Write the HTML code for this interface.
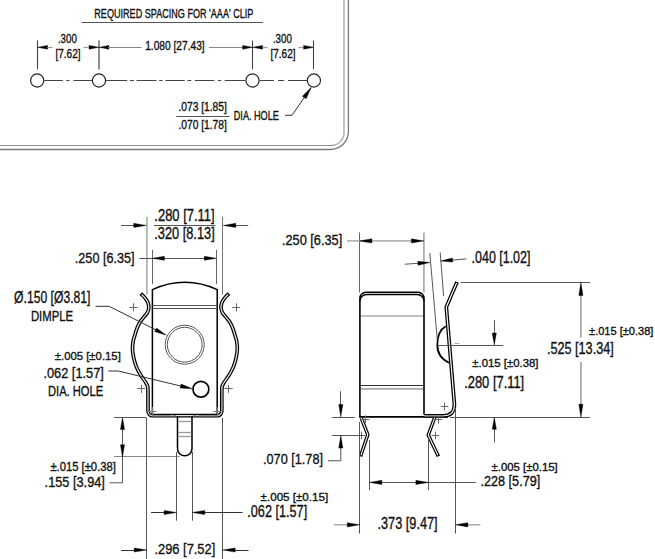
<!DOCTYPE html>
<html><head><meta charset="utf-8"><style>
html,body{margin:0;padding:0;background:#fff;}
svg{display:block;}
text{font-family:"Liberation Sans",sans-serif;}
</style></head><body>
<svg width="655" height="559" viewBox="0 0 655 559">
<rect width="655" height="559" fill="#fff"/>
<path d="M 344 0 L 344 132 A 13 13 0 0 1 331 145.5" fill="none" stroke="#b5b5b5" stroke-width="1.6"/>
<path d="M 333 145.5 L 0 145.5" fill="none" stroke="#8a8a8a" stroke-width="1.2"/>
<path d="M 348.4 0 L 348.4 131.5 A 18 18 0 0 1 330.4 149.5 L 0 149.5" fill="none" stroke="#777" stroke-width="1.3"/>
<text x="94.3" y="17.9" font-size="12.33" textLength="159.1" lengthAdjust="spacingAndGlyphs" fill="#111" stroke="#111" stroke-width="0.35">REQUIRED SPACING FOR 'AAA' CLIP</text>
<line x1="81.6" y1="22.5" x2="263.1" y2="22.5" stroke="#555" stroke-width="1"/>
<line x1="37.5" y1="40.5" x2="37.5" y2="69.4" stroke="#444" stroke-width="1.1"/>
<line x1="252.5" y1="40.5" x2="252.5" y2="69.4" stroke="#444" stroke-width="1.1"/>
<line x1="313.5" y1="40.5" x2="313.5" y2="69.4" stroke="#444" stroke-width="1.1"/>
<line x1="99" y1="40.5" x2="99" y2="69.4" stroke="#8a8a8a" stroke-width="1.9"/>
<polygon points="37.6,47.3 47.6,45.4 47.6,49.2" fill="#000" stroke="#000" stroke-width="0.4"/>
<line x1="47.5" y1="47.5" x2="52.5" y2="47.5" stroke="#999" stroke-width="1.2"/>
<line x1="83.5" y1="47.5" x2="88.5" y2="47.5" stroke="#999" stroke-width="1.2"/>
<polygon points="99,47.3 89,49.2 89,45.4" fill="#000" stroke="#000" stroke-width="0.4"/>
<polygon points="99,47.3 109,45.4 109,49.2" fill="#000" stroke="#000" stroke-width="0.4"/>
<line x1="108" y1="47.5" x2="141.5" y2="47.5" stroke="#888" stroke-width="1"/>
<line x1="209" y1="47.5" x2="243" y2="47.5" stroke="#888" stroke-width="1"/>
<polygon points="252.6,47.3 242.6,49.2 242.6,45.4" fill="#000" stroke="#000" stroke-width="0.4"/>
<polygon points="252.6,47.3 262.6,45.4 262.6,49.2" fill="#000" stroke="#000" stroke-width="0.4"/>
<line x1="262.5" y1="47.5" x2="267.5" y2="47.5" stroke="#999" stroke-width="1.2"/>
<line x1="298.5" y1="47.5" x2="303.5" y2="47.5" stroke="#999" stroke-width="1.2"/>
<polygon points="313.6,47.3 303.6,49.2 303.6,45.4" fill="#000" stroke="#000" stroke-width="0.4"/>
<text x="57.9" y="42.8" font-size="12.33" textLength="19" lengthAdjust="spacingAndGlyphs" fill="#111" stroke="#111" stroke-width="0.35">.300</text>
<text x="55.5" y="57.8" font-size="11.9" textLength="25" lengthAdjust="spacingAndGlyphs" fill="#111" stroke="#111" stroke-width="0.35">[7.62]</text>
<text x="145.2" y="49.6" font-size="11.9" textLength="59.5" lengthAdjust="spacingAndGlyphs" fill="#111" stroke="#111" stroke-width="0.35">1.080 [27.43]</text>
<text x="272.9" y="42.8" font-size="12.33" textLength="19" lengthAdjust="spacingAndGlyphs" fill="#111" stroke="#111" stroke-width="0.35">.300</text>
<text x="270.5" y="57.8" font-size="11.9" textLength="25" lengthAdjust="spacingAndGlyphs" fill="#111" stroke="#111" stroke-width="0.35">[7.62]</text>
<circle cx="37.2" cy="80.5" r="6.6" fill="none" stroke="#222" stroke-width="1.2"/>
<circle cx="99" cy="80.5" r="6.6" fill="none" stroke="#222" stroke-width="1.2"/>
<circle cx="252.5" cy="80.5" r="6.6" fill="none" stroke="#222" stroke-width="1.2"/>
<circle cx="313.9" cy="80.5" r="6.6" fill="none" stroke="#222" stroke-width="1.2"/>
<line x1="44.3" y1="80.5" x2="62.8" y2="80.5" stroke="#444" stroke-width="1"/>
<line x1="66.2" y1="80.5" x2="69.5" y2="80.5" stroke="#444" stroke-width="1"/>
<line x1="73.4" y1="80.5" x2="91.9" y2="80.5" stroke="#444" stroke-width="1"/>
<line x1="106" y1="80.5" x2="127.2" y2="80.5" stroke="#444" stroke-width="1"/>
<line x1="129.8" y1="80.5" x2="133.9" y2="80.5" stroke="#444" stroke-width="1"/>
<line x1="136.6" y1="80.5" x2="156.5" y2="80.5" stroke="#444" stroke-width="1"/>
<line x1="159.2" y1="80.5" x2="162.6" y2="80.5" stroke="#444" stroke-width="1"/>
<line x1="165.3" y1="80.5" x2="184.7" y2="80.5" stroke="#444" stroke-width="1"/>
<line x1="187.3" y1="80.5" x2="191.3" y2="80.5" stroke="#444" stroke-width="1"/>
<line x1="194.9" y1="80.5" x2="214.3" y2="80.5" stroke="#444" stroke-width="1"/>
<line x1="217.8" y1="80.5" x2="221.2" y2="80.5" stroke="#444" stroke-width="1"/>
<line x1="224.7" y1="80.5" x2="245.3" y2="80.5" stroke="#444" stroke-width="1"/>
<line x1="259.7" y1="80.5" x2="273.9" y2="80.5" stroke="#444" stroke-width="1"/>
<line x1="278" y1="80.5" x2="284.2" y2="80.5" stroke="#444" stroke-width="1"/>
<line x1="288" y1="80.5" x2="307" y2="80.5" stroke="#444" stroke-width="1"/>
<text x="178.4" y="110.6" font-size="11.9" textLength="48.5" lengthAdjust="spacingAndGlyphs" fill="#111" stroke="#111" stroke-width="0.35">.073 [1.85]</text>
<line x1="176.3" y1="116.5" x2="229.4" y2="116.5" stroke="#555" stroke-width="1"/>
<text x="178.4" y="128.7" font-size="11.9" textLength="48.5" lengthAdjust="spacingAndGlyphs" fill="#111" stroke="#111" stroke-width="0.35">.070 [1.78]</text>
<text x="233.8" y="120.4" font-size="12.2" textLength="45" lengthAdjust="spacingAndGlyphs" fill="#111" stroke="#111" stroke-width="0.35">DIA. HOLE</text>
<polyline points="285,115.3 292,115.3 311.1,87.6" fill="none" stroke="#333" stroke-width="1"/>
<polygon points="311.1,87.6 306.18,98.78 302.39,96.17" fill="#000" stroke="#000" stroke-width="0.4"/>
<path d="M 141.2 294 C 141.8 294.6 143.68 296.18 144.8 297.6 C 145.92 299.02 147.23 300.85 147.9 302.5 C 148.57 304.15 148.87 305.85 148.8 307.5 C 148.73 309.15 148.23 310.92 147.5 312.4 C 146.77 313.88 145.45 315.07 144.4 316.4 C 143.35 317.73 142.18 318.98 141.2 320.4 C 140.22 321.82 139.32 323.25 138.5 324.9 C 137.68 326.55 136.93 328.5 136.3 330.3 C 135.67 332.1 135.22 333.92 134.7 335.7 C 134.18 337.48 133.57 338.95 133.2 341 C 132.83 343.05 132.53 345.83 132.5 348 C 132.47 350.17 132.67 351.82 133 354 C 133.33 356.18 133.92 358.92 134.5 361.1 C 135.08 363.28 135.75 365.27 136.5 367.1 C 137.25 368.93 138.08 370.43 139 372.1 C 139.92 373.77 140.9 375.42 142 377.1 C 143.1 378.78 144.67 380.68 145.6 382.2 C 146.53 383.72 147.21 384.87 147.6 386.2 C 147.99 387.53 147.89 389.53 147.95 390.2 L 148 390.2 L 148 411.1 A 4.6 4.6 0 0 0 152.6 415.7 L 217.2 415.7 A 4.6 4.6 0 0 0 221.8 411.1 L 221.8 390.2 L 221.85 390.2 C 221.91 389.53 221.81 387.53 222.2 386.2 C 222.59 384.87 223.27 383.72 224.2 382.2 C 225.13 380.68 226.7 378.78 227.8 377.1 C 228.9 375.42 229.88 373.77 230.8 372.1 C 231.72 370.43 232.55 368.93 233.3 367.1 C 234.05 365.27 234.72 363.28 235.3 361.1 C 235.88 358.92 236.47 356.18 236.8 354 C 237.13 351.82 237.33 350.17 237.3 348 C 237.27 345.83 236.97 343.05 236.6 341 C 236.23 338.95 235.62 337.48 235.1 335.7 C 234.58 333.92 234.13 332.1 233.5 330.3 C 232.87 328.5 232.12 326.55 231.3 324.9 C 230.48 323.25 229.58 321.82 228.6 320.4 C 227.62 318.98 226.45 317.73 225.4 316.4 C 224.35 315.07 223.03 313.88 222.3 312.4 C 221.57 310.92 221.07 309.15 221 307.5 C 220.93 305.85 221.23 304.15 221.9 302.5 C 222.57 300.85 223.88 299.02 225 297.6 C 226.12 296.18 228 294.6 228.6 294" fill="none" stroke="#000" stroke-width="3.7" stroke-linejoin="round"/>
<path d="M 141.2 294 C 141.8 294.6 143.68 296.18 144.8 297.6 C 145.92 299.02 147.23 300.85 147.9 302.5 C 148.57 304.15 148.87 305.85 148.8 307.5 C 148.73 309.15 148.23 310.92 147.5 312.4 C 146.77 313.88 145.45 315.07 144.4 316.4 C 143.35 317.73 142.18 318.98 141.2 320.4 C 140.22 321.82 139.32 323.25 138.5 324.9 C 137.68 326.55 136.93 328.5 136.3 330.3 C 135.67 332.1 135.22 333.92 134.7 335.7 C 134.18 337.48 133.57 338.95 133.2 341 C 132.83 343.05 132.53 345.83 132.5 348 C 132.47 350.17 132.67 351.82 133 354 C 133.33 356.18 133.92 358.92 134.5 361.1 C 135.08 363.28 135.75 365.27 136.5 367.1 C 137.25 368.93 138.08 370.43 139 372.1 C 139.92 373.77 140.9 375.42 142 377.1 C 143.1 378.78 144.67 380.68 145.6 382.2 C 146.53 383.72 147.21 384.87 147.6 386.2 C 147.99 387.53 147.89 389.53 147.95 390.2 L 148 390.2 L 148 411.1 A 4.6 4.6 0 0 0 152.6 415.7 L 217.2 415.7 A 4.6 4.6 0 0 0 221.8 411.1 L 221.8 390.2 L 221.85 390.2 C 221.91 389.53 221.81 387.53 222.2 386.2 C 222.59 384.87 223.27 383.72 224.2 382.2 C 225.13 380.68 226.7 378.78 227.8 377.1 C 228.9 375.42 229.88 373.77 230.8 372.1 C 231.72 370.43 232.55 368.93 233.3 367.1 C 234.05 365.27 234.72 363.28 235.3 361.1 C 235.88 358.92 236.47 356.18 236.8 354 C 237.13 351.82 237.33 350.17 237.3 348 C 237.27 345.83 236.97 343.05 236.6 341 C 236.23 338.95 235.62 337.48 235.1 335.7 C 234.58 333.92 234.13 332.1 233.5 330.3 C 232.87 328.5 232.12 326.55 231.3 324.9 C 230.48 323.25 229.58 321.82 228.6 320.4 C 227.62 318.98 226.45 317.73 225.4 316.4 C 224.35 315.07 223.03 313.88 222.3 312.4 C 221.57 310.92 221.07 309.15 221 307.5 C 220.93 305.85 221.23 304.15 221.9 302.5 C 222.57 300.85 223.88 299.02 225 297.6 C 226.12 296.18 228 294.6 228.6 294" fill="none" stroke="#e0e0e0" stroke-width="1.3" stroke-linejoin="round"/>
<line x1="148" y1="389.5" x2="148" y2="411.1" stroke="#888" stroke-width="1.3"/>
<line x1="221.8" y1="389.5" x2="221.8" y2="411.1" stroke="#888" stroke-width="1.3"/>
<line x1="151.7" y1="415.7" x2="170.9" y2="415.7" stroke="#888" stroke-width="1.3"/>
<line x1="172.3" y1="415.7" x2="176.2" y2="415.7" stroke="#888" stroke-width="1.3"/>
<line x1="193.2" y1="415.7" x2="196.3" y2="415.7" stroke="#888" stroke-width="1.3"/>
<line x1="198.4" y1="415.7" x2="218" y2="415.7" stroke="#888" stroke-width="1.3"/>
<line x1="139.89" y1="295.31" x2="142.51" y2="292.69" stroke="#000" stroke-width="1.1"/>
<line x1="227.29" y1="292.69" x2="229.91" y2="295.31" stroke="#000" stroke-width="1.1"/>
<path d="M 152.4 414.4 L 152.4 289.7 A 73.7 73.7 0 0 1 217.2 289.7 L 217.2 414.4" fill="none" stroke="#000" stroke-width="1.5"/>
<line x1="152.4" y1="305.5" x2="217.2" y2="305.5" stroke="#555" stroke-width="1"/>
<line x1="152.4" y1="308.5" x2="217.2" y2="308.5" stroke="#555" stroke-width="1"/>
<path d="M 177.5 416.6 L 177.5 448.6 A 7.25 7.25 0 0 0 192.0 448.6 L 192.0 416.6" fill="none" stroke="#000" stroke-width="1.5"/>
<line x1="178.3" y1="421.5" x2="191.2" y2="421.5" stroke="#999" stroke-width="1.3"/>
<line x1="178.3" y1="432.5" x2="191.2" y2="432.5" stroke="#999" stroke-width="1.3"/>
<line x1="178.3" y1="436.5" x2="191.2" y2="436.5" stroke="#999" stroke-width="1.3"/>
<circle cx="184.7" cy="344.7" r="19.5" fill="none" stroke="#555" stroke-width="1"/>
<circle cx="184.7" cy="344.7" r="17.4" fill="none" stroke="#555" stroke-width="1"/>
<circle cx="200.9" cy="389.3" r="7.9" fill="none" stroke="#000" stroke-width="1.7"/>
<line x1="129.6" y1="307.5" x2="137.6" y2="307.5" stroke="#666" stroke-width="1"/>
<line x1="133.5" y1="303.3" x2="133.5" y2="311.3" stroke="#666" stroke-width="1"/>
<line x1="232.1" y1="307.5" x2="240.1" y2="307.5" stroke="#666" stroke-width="1"/>
<line x1="236.5" y1="303.3" x2="236.5" y2="311.3" stroke="#666" stroke-width="1"/>
<line x1="137.1" y1="388.5" x2="145.1" y2="388.5" stroke="#666" stroke-width="1"/>
<line x1="141.5" y1="384.9" x2="141.5" y2="392.9" stroke="#666" stroke-width="1"/>
<line x1="224.6" y1="388.5" x2="232.6" y2="388.5" stroke="#666" stroke-width="1"/>
<line x1="228.5" y1="384.9" x2="228.5" y2="392.9" stroke="#666" stroke-width="1"/>
<line x1="147.9" y1="411.5" x2="156.5" y2="411.5" stroke="#777" stroke-width="1"/>
<line x1="152.5" y1="407.1" x2="152.5" y2="415.7" stroke="#777" stroke-width="1"/>
<line x1="213.3" y1="411.5" x2="221.9" y2="411.5" stroke="#777" stroke-width="1"/>
<line x1="217.5" y1="407.1" x2="217.5" y2="415.7" stroke="#777" stroke-width="1"/>
<line x1="146.9" y1="217" x2="146.9" y2="294.5" stroke="#aaa" stroke-width="1.6"/>
<line x1="222.5" y1="216.8" x2="222.5" y2="294.5" stroke="#777" stroke-width="1"/>
<line x1="121" y1="225.5" x2="140" y2="225.5" stroke="#555" stroke-width="1"/>
<polygon points="146.2,225.4 133.7,227.45 133.7,223.35" fill="#000" stroke="#000" stroke-width="0.4"/>
<line x1="234" y1="225.5" x2="248.2" y2="225.5" stroke="#555" stroke-width="1"/>
<polygon points="223.3,225.4 235.8,223.35 235.8,227.45" fill="#000" stroke="#000" stroke-width="0.4"/>
<text x="154.3" y="220.5" font-size="15.64" textLength="60.4" lengthAdjust="spacingAndGlyphs" fill="#111" stroke="#111" stroke-width="0.35">.280 [7.11]</text>
<line x1="153.9" y1="225.5" x2="215.4" y2="225.5" stroke="#555" stroke-width="1"/>
<text x="154.3" y="238.7" font-size="15.64" textLength="60.4" lengthAdjust="spacingAndGlyphs" fill="#111" stroke="#111" stroke-width="0.35">.320 [8.13]</text>
<line x1="152.5" y1="249.9" x2="152.5" y2="284.2" stroke="#666" stroke-width="1"/>
<line x1="216.5" y1="249.9" x2="216.5" y2="284.2" stroke="#666" stroke-width="1"/>
<line x1="139.4" y1="258.5" x2="205" y2="258.5" stroke="#555" stroke-width="1"/>
<polygon points="152.4,258.3 164.4,256.25 164.4,260.35" fill="#000" stroke="#000" stroke-width="0.4"/>
<polygon points="216.3,258.3 204.3,260.35 204.3,256.25" fill="#000" stroke="#000" stroke-width="0.4"/>
<text x="74.8" y="262.9" font-size="15.49" textLength="59.8" lengthAdjust="spacingAndGlyphs" fill="#111" stroke="#111" stroke-width="0.35">.250 [6.35]</text>
<text x="14.1" y="302.8" font-size="16.09" textLength="76.3" lengthAdjust="spacingAndGlyphs" fill="#111" stroke="#111" stroke-width="0.35">Ø.150 [Ø3.81]</text>
<text x="30.9" y="320.7" font-size="15.04" textLength="42.3" lengthAdjust="spacingAndGlyphs" fill="#111" stroke="#111" stroke-width="0.35">DIMPLE</text>
<polyline points="95.5,306.3 109.2,306.3 160,332" fill="none" stroke="#333" stroke-width="1"/>
<polygon points="166.3,335.2 154.67,331.61 156.52,327.95" fill="#000" stroke="#000" stroke-width="0.4"/>
<text x="54.8" y="360.4" font-size="11.73" textLength="66" lengthAdjust="spacingAndGlyphs" fill="#111" stroke="#111" stroke-width="0.35">±.005 [±0.15]</text>
<text x="43.4" y="377.7" font-size="15.04" textLength="60.5" lengthAdjust="spacingAndGlyphs" fill="#111" stroke="#111" stroke-width="0.35">.062 [1.57]</text>
<text x="48" y="395.8" font-size="14.74" textLength="55.2" lengthAdjust="spacingAndGlyphs" fill="#111" stroke="#111" stroke-width="0.35">DIA. HOLE</text>
<polyline points="108.4,371 118.3,371 186,387.3" fill="none" stroke="#333" stroke-width="1"/>
<polygon points="192.3,388.8 180.15,387.99 181.11,384" fill="#000" stroke="#000" stroke-width="0.4"/>
<line x1="114" y1="417.5" x2="146.6" y2="417.5" stroke="#555" stroke-width="1"/>
<line x1="114" y1="456.5" x2="179.5" y2="456.5" stroke="#888" stroke-width="1"/>
<polyline points="122.5,425 122.5,482.8 109.6,482.8" fill="none" stroke="#555" stroke-width="1"/>
<polygon points="122.5,417.5 124.55,429.5 120.45,429.5" fill="#000" stroke="#000" stroke-width="0.4"/>
<polygon points="122.5,456.8 120.45,444.8 124.55,444.8" fill="#000" stroke="#000" stroke-width="0.4"/>
<text x="50.4" y="471.4" font-size="12.03" textLength="65.5" lengthAdjust="spacingAndGlyphs" fill="#111" stroke="#111" stroke-width="0.35">±.015 [±0.38]</text>
<text x="44.6" y="487.1" font-size="14.89" textLength="60.3" lengthAdjust="spacingAndGlyphs" fill="#111" stroke="#111" stroke-width="0.35">.155 [3.94]</text>
<line x1="146.5" y1="418" x2="146.5" y2="559" stroke="#555" stroke-width="1"/>
<line x1="222.5" y1="418" x2="222.5" y2="559" stroke="#555" stroke-width="1"/>
<line x1="176.5" y1="452" x2="176.5" y2="520.7" stroke="#555" stroke-width="1"/>
<line x1="192.5" y1="452" x2="192.5" y2="520.7" stroke="#555" stroke-width="1"/>
<line x1="151" y1="512.5" x2="166" y2="512.5" stroke="#333" stroke-width="1"/>
<polygon points="176.6,512.5 164.1,514.55 164.1,510.45" fill="#000" stroke="#000" stroke-width="0.4"/>
<line x1="203" y1="512.5" x2="242.7" y2="512.5" stroke="#333" stroke-width="1"/>
<polygon points="192.3,512.5 204.8,510.45 204.8,514.55" fill="#000" stroke="#000" stroke-width="0.4"/>
<text x="260.6" y="500.6" font-size="11.43" textLength="67.6" lengthAdjust="spacingAndGlyphs" fill="#111" stroke="#111" stroke-width="0.35">±.005 [±0.15]</text>
<text x="247.3" y="516.6" font-size="15.94" textLength="59.9" lengthAdjust="spacingAndGlyphs" fill="#111" stroke="#111" stroke-width="0.35">.062 [1.57]</text>
<line x1="121" y1="550.5" x2="136" y2="550.5" stroke="#333" stroke-width="1"/>
<polygon points="146.7,550 134.2,552.05 134.2,547.95" fill="#000" stroke="#000" stroke-width="0.4"/>
<line x1="233" y1="550.5" x2="248.5" y2="550.5" stroke="#333" stroke-width="1"/>
<polygon points="222.7,550 235.2,547.95 235.2,552.05" fill="#000" stroke="#000" stroke-width="0.4"/>
<text x="154.4" y="554" font-size="15.49" textLength="60.9" lengthAdjust="spacingAndGlyphs" fill="#111" stroke="#111" stroke-width="0.35">.296 [7.52]</text>
<line x1="360.7" y1="316" x2="423.2" y2="316" stroke="#aaa" stroke-width="1.5"/>
<line x1="360.7" y1="385.5" x2="423.2" y2="385.5" stroke="#333" stroke-width="1"/>
<line x1="360.7" y1="388.8" x2="423.2" y2="388.8" stroke="#aaa" stroke-width="1.8"/>
<path d="M 359.9 416.9 L 359.9 298.3 A 6 6 0 0 1 365.9 292.3 L 418.0 292.3 A 6 6 0 0 1 424.0 298.3 L 424.0 414.6" fill="none" stroke="#000" stroke-width="1.6"/>
<path d="M 359.9 301.3 A 6.8 6.8 0 0 1 366.7 294.5 L 417.2 294.5 A 6.8 6.8 0 0 1 424.0 301.3" fill="none" stroke="#000" stroke-width="1.4"/>
<line x1="359.1" y1="416.9" x2="448" y2="416.9" stroke="#000" stroke-width="1.6"/>
<path d="M 424 415.75 L 444 415.75 C 450.5 415.75 454.6 412 454.4 404 L 446.3 307 L 456.8 282.5" fill="none" stroke="#000" stroke-width="3.7" stroke-linejoin="round"/>
<path d="M 424 415.75 L 444 415.75 C 450.5 415.75 454.6 412 454.4 404 L 446.3 307 L 456.8 282.5" fill="none" stroke="#fff" stroke-width="1.2" stroke-linejoin="round"/>
<line x1="424.8" y1="415.75" x2="444" y2="415.75" stroke="#888" stroke-width="1.2"/>
<line x1="458.5" y1="283.23" x2="455.1" y2="281.77" stroke="#000" stroke-width="1.1"/>
<path d="M 445.7 326.3 C 440.2 329.5 437.3 337 437.3 345 C 437.3 353 442 359.5 449.1 362.8" fill="none" stroke="#000" stroke-width="1.8"/>
<line x1="429.8" y1="253" x2="437.3" y2="340" stroke="#444" stroke-width="0.9"/>
<line x1="440.2" y1="252.4" x2="443.6" y2="296" stroke="#444" stroke-width="0.9"/>
<path d="M 361.3 418.2 L 367.8 434.6 L 360.7 455.8" fill="none" stroke="#000" stroke-width="3.5" stroke-linejoin="round"/>
<path d="M 361.3 418.2 L 367.8 434.6 L 360.7 455.8" fill="none" stroke="#fff" stroke-width="1.1" stroke-linejoin="round"/>
<line x1="362.36" y1="456.36" x2="359.04" y2="455.24" stroke="#000" stroke-width="1.1"/>
<path d="M 434.7 417.6 L 428.2 435.1 L 438.1 455.8" fill="none" stroke="#000" stroke-width="3.5" stroke-linejoin="round"/>
<path d="M 434.7 417.6 L 428.2 435.1 L 438.1 455.8" fill="none" stroke="#fff" stroke-width="1.1" stroke-linejoin="round"/>
<line x1="439.68" y1="455.04" x2="436.52" y2="456.56" stroke="#000" stroke-width="1.1"/>
<line x1="361.7" y1="419.5" x2="369.3" y2="419.5" stroke="#666" stroke-width="1"/>
<line x1="365.5" y1="415.4" x2="365.5" y2="423" stroke="#666" stroke-width="1"/>
<line x1="357.8" y1="435.5" x2="365.4" y2="435.5" stroke="#666" stroke-width="1"/>
<line x1="361.5" y1="431.6" x2="361.5" y2="439.2" stroke="#666" stroke-width="1"/>
<line x1="434.6" y1="419.5" x2="442.2" y2="419.5" stroke="#666" stroke-width="1"/>
<line x1="438.5" y1="416" x2="438.5" y2="423.6" stroke="#666" stroke-width="1"/>
<line x1="431.4" y1="435.5" x2="439" y2="435.5" stroke="#666" stroke-width="1"/>
<line x1="435.5" y1="431.6" x2="435.5" y2="439.2" stroke="#666" stroke-width="1"/>
<line x1="440.8" y1="406.5" x2="448.4" y2="406.5" stroke="#666" stroke-width="1"/>
<line x1="444.5" y1="402.5" x2="444.5" y2="410.1" stroke="#666" stroke-width="1"/>
<line x1="359.5" y1="232.4" x2="359.5" y2="292.5" stroke="#666" stroke-width="1"/>
<line x1="423.9" y1="232.4" x2="423.9" y2="292.5" stroke="#aaa" stroke-width="1.7"/>
<line x1="347.1" y1="240.9" x2="417" y2="240.9" stroke="#b5b5b5" stroke-width="1.8"/>
<polygon points="359.4,240.9 371.9,238.85 371.9,242.95" fill="#000" stroke="#000" stroke-width="0.4"/>
<polygon points="423.9,240.9 411.4,242.95 411.4,238.85" fill="#000" stroke="#000" stroke-width="0.4"/>
<text x="281.9" y="244.8" font-size="14.89" textLength="60.4" lengthAdjust="spacingAndGlyphs" fill="#111" stroke="#111" stroke-width="0.35">.250 [6.35]</text>
<line x1="404.7" y1="264.2" x2="420" y2="263.2" stroke="#555" stroke-width="1"/>
<polygon points="429.9,262.5 418.07,265.35 417.79,261.26" fill="#000" stroke="#000" stroke-width="0.4"/>
<line x1="450" y1="260.3" x2="466.3" y2="258.9" stroke="#555" stroke-width="1"/>
<polygon points="440.6,261 452.39,257.98 452.73,262.07" fill="#000" stroke="#000" stroke-width="0.4"/>
<text x="471.6" y="263.1" font-size="16.09" textLength="58.8" lengthAdjust="spacingAndGlyphs" fill="#111" stroke="#111" stroke-width="0.35">.040 [1.02]</text>
<line x1="460.8" y1="282.5" x2="590" y2="282.5" stroke="#555" stroke-width="1"/>
<line x1="450" y1="417.5" x2="590" y2="417.5" stroke="#555" stroke-width="1"/>
<line x1="580.9" y1="290" x2="580.9" y2="337.5" stroke="#aaa" stroke-width="1.8"/>
<line x1="580.9" y1="362" x2="580.9" y2="410" stroke="#aaa" stroke-width="1.8"/>
<polygon points="580.9,282.5 582.95,295.5 578.85,295.5" fill="#000" stroke="#000" stroke-width="0.4"/>
<polygon points="580.9,417.3 578.85,404.3 582.95,404.3" fill="#000" stroke="#000" stroke-width="0.4"/>
<text x="589.1" y="335" font-size="11.28" textLength="64.3" lengthAdjust="spacingAndGlyphs" fill="#111" stroke="#111" stroke-width="0.35">±.015 [±0.38]</text>
<text x="547" y="353.7" font-size="16.39" textLength="66.7" lengthAdjust="spacingAndGlyphs" fill="#111" stroke="#111" stroke-width="0.35">.525 [13.34]</text>
<line x1="437.3" y1="345.5" x2="503.2" y2="345.5" stroke="#555" stroke-width="1"/>
<line x1="454.5" y1="343.5" x2="459.5" y2="343.5" stroke="#aaa" stroke-width="1"/>
<line x1="494.5" y1="320.1" x2="494.5" y2="335" stroke="#555" stroke-width="1"/>
<polygon points="494.3,345 492.25,333 496.35,333" fill="#000" stroke="#000" stroke-width="0.4"/>
<line x1="494.5" y1="428" x2="494.5" y2="442.5" stroke="#555" stroke-width="1"/>
<polygon points="494.3,417.3 496.35,429.3 492.25,429.3" fill="#000" stroke="#000" stroke-width="0.4"/>
<text x="472.3" y="366.9" font-size="11.73" textLength="66.2" lengthAdjust="spacingAndGlyphs" fill="#111" stroke="#111" stroke-width="0.35">±.015 [±0.38]</text>
<text x="464.2" y="387.7" font-size="15.64" textLength="60" lengthAdjust="spacingAndGlyphs" fill="#111" stroke="#111" stroke-width="0.35">.280 [7.11]</text>
<line x1="332.2" y1="417.5" x2="354.7" y2="417.5" stroke="#555" stroke-width="1"/>
<line x1="332.2" y1="435.5" x2="362" y2="435.5" stroke="#555" stroke-width="1"/>
<line x1="340.5" y1="391.2" x2="340.5" y2="406" stroke="#555" stroke-width="1"/>
<polygon points="340.8,417 338.75,404.5 342.85,404.5" fill="#000" stroke="#000" stroke-width="0.4"/>
<polyline points="340.8,445 340.8,460.8 327.9,460.8" fill="none" stroke="#555" stroke-width="1"/>
<polygon points="340.8,435.6 342.85,448.1 338.75,448.1" fill="#000" stroke="#000" stroke-width="0.4"/>
<text x="263" y="464.4" font-size="14.89" textLength="60" lengthAdjust="spacingAndGlyphs" fill="#111" stroke="#111" stroke-width="0.35">.070 [1.78]</text>
<line x1="359.5" y1="422" x2="359.5" y2="533.5" stroke="#555" stroke-width="1"/>
<line x1="455.5" y1="408" x2="455.5" y2="533.5" stroke="#555" stroke-width="1"/>
<line x1="369.5" y1="440" x2="369.5" y2="490.2" stroke="#555" stroke-width="1"/>
<line x1="428.5" y1="438.6" x2="428.5" y2="490.2" stroke="#555" stroke-width="1"/>
<line x1="375" y1="482.5" x2="475.8" y2="482.5" stroke="#555" stroke-width="1"/>
<polygon points="369.4,482.4 381.9,480.35 381.9,484.45" fill="#000" stroke="#000" stroke-width="0.4"/>
<polygon points="428.4,482.4 415.9,484.45 415.9,480.35" fill="#000" stroke="#000" stroke-width="0.4"/>
<text x="491.5" y="471.2" font-size="10.83" textLength="66.2" lengthAdjust="spacingAndGlyphs" fill="#111" stroke="#111" stroke-width="0.35">±.005 [±0.15]</text>
<text x="480.4" y="486.2" font-size="14.59" textLength="59.9" lengthAdjust="spacingAndGlyphs" fill="#111" stroke="#111" stroke-width="0.35">.228 [5.79]</text>
<line x1="333.8" y1="524.8" x2="349" y2="524.8" stroke="#aaa" stroke-width="1.5"/>
<polygon points="359.6,524.8 347.3,526.9 347.3,522.7" fill="#000" stroke="#000" stroke-width="0.4"/>
<line x1="466" y1="524.8" x2="480.4" y2="524.8" stroke="#aaa" stroke-width="1.5"/>
<polygon points="455.5,524.8 467.8,522.7 467.8,526.9" fill="#000" stroke="#000" stroke-width="0.4"/>
<text x="377.5" y="528.7" font-size="15.64" textLength="60.1" lengthAdjust="spacingAndGlyphs" fill="#111" stroke="#111" stroke-width="0.35">.373 [9.47]</text>
</svg>
</body></html>
